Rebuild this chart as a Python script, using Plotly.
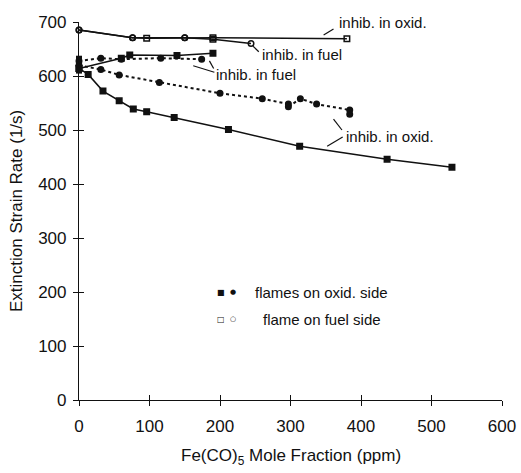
import plotly.graph_objects as go

# ---- data ----
# flame on fuel side, inhibitor in oxidizer (open symbols, solid line)
fs_ox_x = [0, 76, 96, 150, 190, 380]
fs_ox_y = [685, 671, 670, 671, 671, 669]
fs_ox_sym = ["circle-open", "circle-open", "square-open", "circle-open", "square-open", "square-open"]

# flame on fuel side, inhibitor in fuel (open symbols, solid line)
fs_fu_x = [0, 76, 150, 190, 244]
fs_fu_y = [685, 671, 671, 668, 660]
fs_fu_sym = ["circle-open", "circle-open", "circle-open", "square-open", "circle-open"]

# flames on oxidizer side, inhibitor in fuel: squares solid, circles dotted
os_fu_sq_x = [0, 60, 72, 139, 190]
os_fu_sq_y = [614, 633, 639, 638, 642]
os_fu_ci_x = [0, 31, 60, 116, 174]
os_fu_ci_y = [628, 633, 631, 633, 631]

# flames on oxidizer side, inhibitor in oxidizer: squares solid, circles dotted
os_ox_sq_x = [0, 13, 34, 57, 77, 96, 135, 212, 313, 437, 529]
os_ox_sq_y = [614, 603, 572, 554, 539, 534, 523, 501, 470, 446, 431]
os_ox_ci_x = [0, 31, 57, 114, 200, 260, 297, 297, 314, 337, 384, 384]
os_ox_ci_y = [620, 612, 602, 588, 568, 558, 548, 543, 558, 548, 537, 529]

# extra uninhibited points at zero loading
zero_x = [0, 0, 0, 0]
zero_y = [632, 625, 618, 610]

x_ticks = [0, 100, 200, 300, 400, 500, 600]
y_ticks = [0, 100, 200, 300, 400, 500, 600, 700]

BLACK = "#111111"
fig = go.Figure()

def add(x, y, dash, sym, size=5.5, width=1.5):
    fig.add_trace(go.Scatter(
        x=x, y=y, mode="lines+markers", cliponaxis=False, showlegend=False,
        line=dict(color=BLACK, width=width, dash=dash),
        marker=dict(symbol=sym, size=size, color=BLACK,
                    line=dict(color=BLACK, width=1.5))))

add(fs_ox_x, fs_ox_y, "solid", fs_ox_sym)
add(fs_fu_x, fs_fu_y, "solid", fs_fu_sym)
add(os_fu_sq_x, os_fu_sq_y, "solid", "square")
add(os_fu_ci_x, os_fu_ci_y, "dot", "circle", width=2)
add(os_ox_sq_x, os_ox_sq_y, "solid", "square")
add(os_ox_ci_x, os_ox_ci_y, "dot", "circle", width=2)
fig.add_trace(go.Scatter(x=zero_x, y=zero_y, mode="markers", cliponaxis=False,
                         showlegend=False,
                         marker=dict(symbol="square", size=6, color=BLACK)))

FONT = "Liberation Sans, Arial, sans-serif"

# labels
labels = [
    (369, 700, "inhib. in oxid."),
    (260, 640, "inhib. in fuel"),
    (195, 603, "inhib. in fuel"),
    (379, 488, "inhib. in oxid."),
]
for lx, ly, txt in labels:
    fig.add_annotation(x=lx, y=ly, text=txt, showarrow=False, xanchor="left",
                       yanchor="middle", xshift=-2,
                       font=dict(family=FONT, size=15, color=BLACK))

# leader lines
leaders = [
    (347, 676, 361, 687),
    (247, 655, 255, 645),
    (162, 619, 192, 607),
    (185, 628, 191, 614),
    (361, 520, 373, 500),
    (352, 470, 374, 487),
]
for x0, y0, x1, y1 in leaders:
    fig.add_shape(type="line", x0=x0, y0=y0, x1=x1, y1=y1, xref="x", yref="y",
                  line=dict(color=BLACK, width=1.2))

# legend (text)
legend_rows = [
    (0.285, "■", "●", "flames on oxid. side", 0.411),
    (0.214, "□", "○", "flame on fuel side", 0.43),
]
for ly, s1, s2, txt, tx in legend_rows:
    fig.add_annotation(x=0.335, y=ly, xref="paper", yref="paper", text=s1,
                       showarrow=False, xanchor="center", yanchor="middle",
                       font=dict(family="DejaVu Sans", size=8, color=BLACK))
    fig.add_annotation(x=0.365, y=ly, xref="paper", yref="paper", text=s2,
                       showarrow=False, xanchor="center", yanchor="middle",
                       font=dict(family="DejaVu Sans", size=7, color=BLACK))
    fig.add_annotation(x=tx, y=ly, xref="paper", yref="paper", text=txt,
                       showarrow=False, xanchor="left", yanchor="middle",
                       font=dict(family=FONT, size=15, color=BLACK))

# axis titles
fig.add_annotation(x=-0.149, y=0.5, xref="paper", yref="paper",
                   text="Extinction Strain Rate (1/s)", textangle=-90,
                   showarrow=False, xanchor="center", yanchor="middle",
                   font=dict(family=FONT, size=17, color=BLACK))
fig.add_annotation(x=0.5, y=-0.151, xref="paper", yref="paper",
                   text="Fe(CO)<sub>5</sub> Mole Fraction (ppm)",
                   showarrow=False, xanchor="center", yanchor="middle",
                   font=dict(family=FONT, size=17, color=BLACK))

axis_common = dict(showgrid=False, zeroline=False, showline=True, linecolor=BLACK,
                   linewidth=1.2, tickcolor=BLACK, tickwidth=1.2, automargin=False,
                   tickfont=dict(family=FONT, size=17, color=BLACK))

fig.update_layout(
    width=521, height=473,
    margin=dict(l=79, r=19, t=22, b=73),
    paper_bgcolor="white", plot_bgcolor="white",
    xaxis=dict(range=[0, 600], tickvals=x_ticks, ticks="inside", ticklen=5,
               ticklabelstandoff=10, **axis_common),
    yaxis=dict(range=[0, 700], tickvals=y_ticks, ticks="inside", ticklen=5,
               ticklabelstandoff=8, **axis_common),
    xaxis2=dict(range=[0, 600], tickvals=x_ticks, ticks="outside", ticklen=5,
                overlaying="x", matches="x", showticklabels=False, showgrid=False,
                zeroline=False, showline=False, tickcolor=BLACK, tickwidth=1.2),
    yaxis2=dict(range=[0, 700], tickvals=y_ticks, ticks="outside", ticklen=5,
                overlaying="y", matches="y", showticklabels=False, showgrid=False,
                zeroline=False, showline=False, tickcolor=BLACK, tickwidth=1.2),
)
# invisible trace to activate the secondary (outside-tick) axes
fig.add_trace(go.Scatter(x=[0], y=[0], xaxis="x2", yaxis="y2", mode="markers",
                         marker=dict(opacity=0), showlegend=False, hoverinfo="skip"))

fig.write_html("out.html", config={"displayModeBar": False},
               post_script="document.body.style.margin='0';document.body.style.padding='0';")
